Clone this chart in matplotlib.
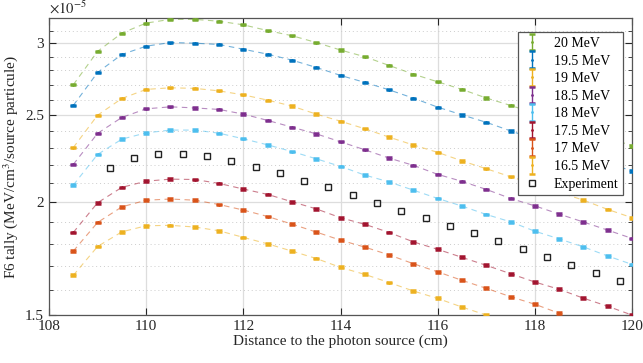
import numpy as np
import matplotlib
matplotlib.use("Agg")
import matplotlib.pyplot as plt
from matplotlib.ticker import FixedLocator, FixedFormatter, NullFormatter
from matplotlib.legend_handler import HandlerErrorbar
from matplotlib.container import ErrorbarContainer

plt.rcParams["font.family"] = ["Liberation Serif", "DejaVu Serif"]
plt.rcParams["mathtext.fontset"] = "stix"

# distance (cm) of simulated points, tally in units of 1e-5 MeV/cm3/source particle
x_sim = [108.5, 109, 109.5, 110, 110.5, 111, 111.5, 112, 112.5, 113, 113.5, 114,
         114.5, 115, 115.5, 116, 116.5, 117, 117.5, 118, 118.5, 119, 119.5, 120]

e20 = [2.70, 2.94, 3.08, 3.16, 3.19, 3.19, 3.175, 3.146, 3.10, 3.06, 3.007, 2.95,
       2.90, 2.836, 2.774, 2.72, 2.668, 2.61, 2.561, 2.51, 2.46, 2.41, 2.36, 2.31]
e195 = [2.561, 2.786, 2.917, 2.979, 3.007, 3.002, 2.992, 2.956, 2.919, 2.875, 2.822, 2.765,
        2.716, 2.665, 2.609, 2.55, 2.50, 2.453, 2.40, 2.35, 2.30, 2.26, 2.21, 2.167]
e19 = [2.30, 2.498, 2.607, 2.668, 2.679, 2.675, 2.658, 2.631, 2.596, 2.557, 2.505, 2.46,
       2.413, 2.362, 2.315, 2.272, 2.223, 2.179, 2.135, 2.094, 2.052, 2.011, 1.964, 1.923]
e185 = [2.203, 2.385, 2.484, 2.539, 2.552, 2.545, 2.535, 2.505, 2.465, 2.423, 2.382, 2.334,
        2.287, 2.239, 2.198, 2.148, 2.110, 2.067, 2.020, 1.982, 1.941, 1.902, 1.863, 1.824]
e18 = [2.090, 2.260, 2.350, 2.388, 2.405, 2.405, 2.386, 2.352, 2.316, 2.277, 2.235, 2.192,
       2.144, 2.107, 2.063, 2.020, 1.981, 1.939, 1.903, 1.858, 1.822, 1.785, 1.744, 1.707]
e175 = [1.852, 1.998, 2.078, 2.111, 2.122, 2.12, 2.099, 2.069, 2.041, 2.003, 1.967, 1.923,
        1.891, 1.852, 1.808, 1.774, 1.738, 1.703, 1.667, 1.632, 1.602, 1.566, 1.534, 1.50]
e17 = [1.766, 1.900, 1.977, 2.011, 2.017, 2.011, 1.989, 1.961, 1.929, 1.892, 1.854, 1.816,
       1.784, 1.749, 1.710, 1.675, 1.639, 1.606, 1.572, 1.542, 1.507, 1.475, 1.445, 1.415]
e165 = [1.660, 1.787, 1.855, 1.884, 1.886, 1.878, 1.860, 1.829, 1.799, 1.766, 1.733, 1.694,
        1.664, 1.630, 1.595, 1.565, 1.531, 1.50, 1.47, 1.44, 1.41, 1.38, 1.35, 1.32]

x_exp = [109.25, 109.75, 110.25, 110.75, 111.25, 111.75, 112.25, 112.75, 113.25, 113.75,
         114.25, 114.75, 115.25, 115.75, 116.25, 116.75, 117.25, 117.75, 118.25, 118.75,
         119.25, 119.75]
y_exp = [2.184, 2.241, 2.264, 2.264, 2.249, 2.220, 2.186, 2.153, 2.114, 2.078, 2.036, 1.998,
         1.957, 1.920, 1.882, 1.848, 1.810, 1.774, 1.738, 1.703, 1.668, 1.636]

series = [("20 MeV", e20, "#77AC30"), ("19.5 MeV", e195, "#0072BD"),
          ("19 MeV", e19, "#EDB120"), ("18.5 MeV", e185, "#7E2F8E"),
          ("18 MeV", e18, "#4DBEEE"), ("17.5 MeV", e175, "#A2142F"),
          ("17 MeV", e17, "#D95319"), ("16.5 MeV", e165, "#EDB120")]
err = 0.004

fig = plt.figure(figsize=(6.43, 3.63), dpi=100)
ax = fig.add_axes([0.0762, 0.132, 0.9068, 0.818])

handles = []
for label, vals, col in series:
    ax.plot(x_sim, vals, ls=(0, (5, 4)), lw=0.8, color=col, alpha=0.55, zorder=2)
    h = ax.errorbar(x_sim, vals, yerr=err, fmt=".", ms=2, color=col, ecolor=col,
                    elinewidth=1.0, capsize=2.3, capthick=1.8, label=label, zorder=3)
    handles.append(h)

h_exp, = ax.plot(x_exp, y_exp, "s", ms=5, mfc="none", mec="#222222", mew=1.0,
                 label="Experiment", zorder=4)
handles.append(h_exp)

ax.set_yscale("log")
ax.set_xlim(108, 120)
ax.set_ylim(1.5, 3.2)
ax.set_xticks(np.arange(108, 121, 2))
ax.yaxis.set_major_locator(FixedLocator([1.5, 2, 2.5, 3]))
ax.yaxis.set_major_formatter(FixedFormatter(["1.5", "2", "2.5", "3"]))
minors = [v for v in np.round(np.arange(1.6, 3.25, 0.1), 2) if v not in (2.0, 2.5, 3.0)]
ax.yaxis.set_minor_locator(FixedLocator(minors))
ax.yaxis.set_minor_formatter(NullFormatter())

ax.grid(True, which="major", color="#dddddd", lw=0.9, ls="-")
ax.grid(True, which="minor", axis="y", color="#cccccc", lw=0.7, ls=(0, (1, 3)))
ax.set_axisbelow(True)

ax.tick_params(which="both", direction="in", top=True, right=True,
               labelsize=11, color="#262626", labelcolor="#262626")
ax.tick_params(which="major", length=5, width=0.8)
ax.tick_params(which="minor", length=3, width=0.6)
for s in ax.spines.values():
    s.set_color("#555555")
    s.set_linewidth(0.9)

ax.set_xlabel("Distance to the photon source (cm)", fontsize=11, color="#262626", labelpad=1)
ax.set_ylabel("F6 tally (MeV/cm$^3$/source particule)", fontsize=11, color="#262626", labelpad=4)
ax.text(0.0, 1.006, r"$\times10^{-5}$", transform=ax.transAxes, fontsize=10.5,
        color="#262626", ha="left", va="bottom")

leg = ax.legend(handles, [h.get_label() for h in handles],
                loc="upper right", bbox_to_anchor=(0.985, 0.953), borderaxespad=0,
                fontsize=10, fancybox=False, framealpha=1, edgecolor="#555555",
                labelspacing=0.33, handlelength=1.4, handletextpad=0.85,
                borderpad=0.35,
                handler_map={ErrorbarContainer: HandlerErrorbar(xerr_size=0.6)})
leg.get_frame().set_linewidth(0.9)

fig.savefig("out.png", dpi=100)
